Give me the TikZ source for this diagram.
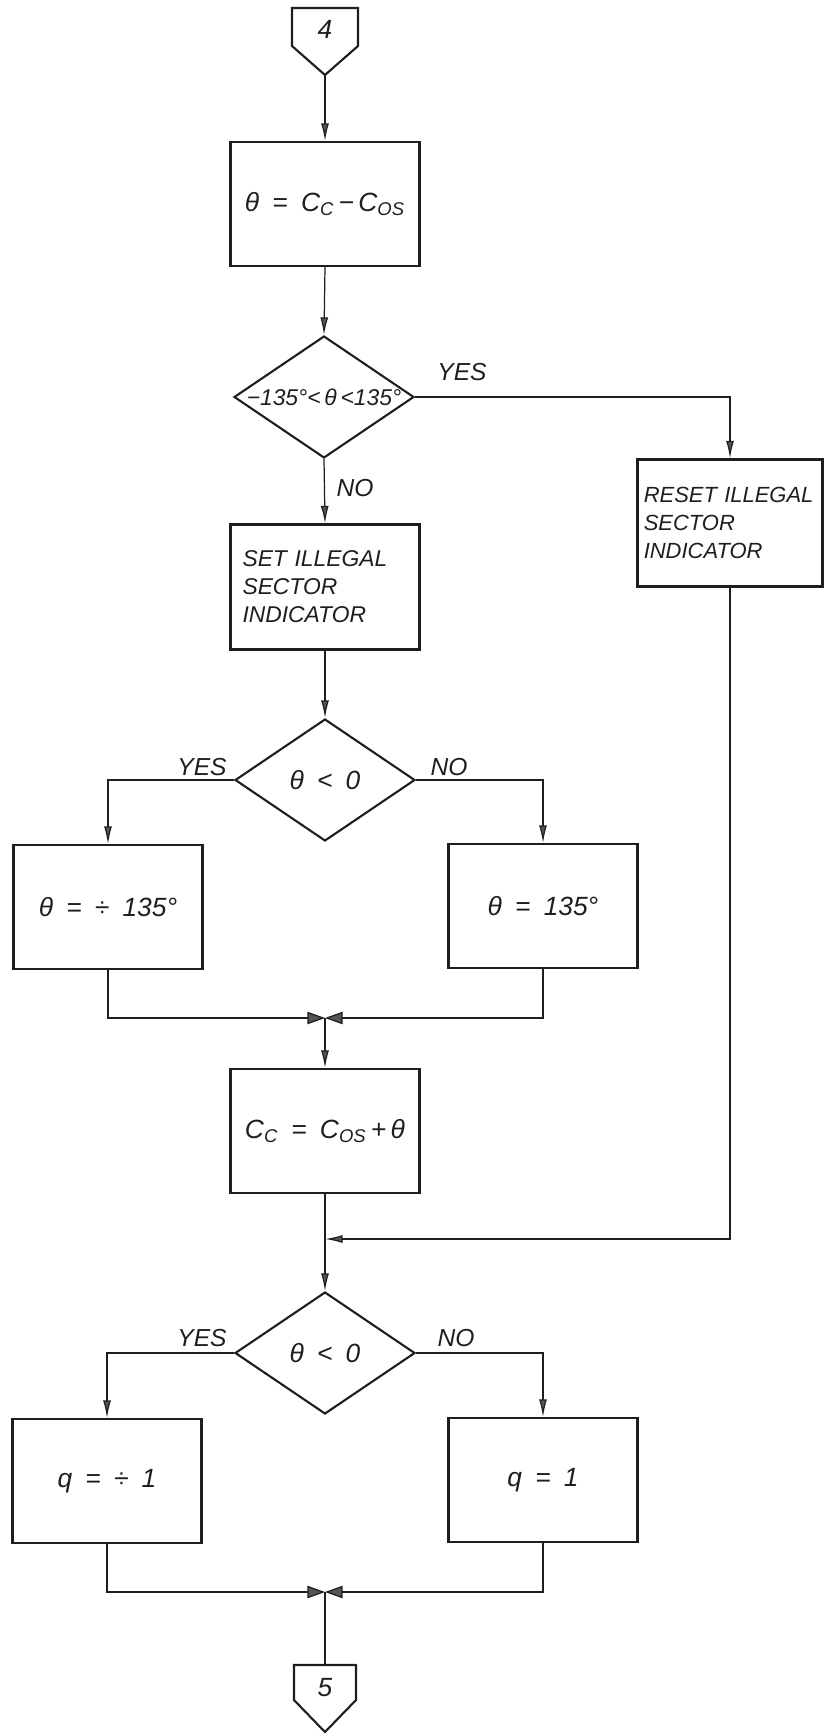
\documentclass[tikz,border=0pt]{standalone}
\usepackage{fontspec}
\setmainfont{Liberation Sans}
\usetikzlibrary{arrows.meta,shapes.geometric}
\definecolor{ink}{HTML}{1E1E1E}
\definecolor{tipgray}{HTML}{555555}
\newcommand{\subs}[1]{\textsubscript{#1}}

\begin{document}
\begin{tikzpicture}[x=0.02cm,y=-0.02cm,
  >={Latex[length=10pt,width=4.5pt,fill=tipgray]},
  every node/.style={font=\itshape\fontsize{13}{16}\selectfont,text=ink},
  proc/.style={draw=ink,line width=1.2pt,minimum width=3.78cm,minimum height=2.48cm,inner sep=3pt},
  dec/.style={draw=ink,diamond,line width=1.2pt,minimum width=3.6cm,minimum height=2.44cm,inner sep=0pt},
  eq/.style={font=\itshape\fontsize{15}{18}\selectfont},
  lbl/.style={font=\itshape\fontsize{14}{16}\selectfont},
  flow/.style={draw=ink,line width=0.7pt,->},
  bow/.style={draw=ink,line width=0.7pt,-{Triangle[length=10pt,width=7pt,fill=tipgray]}}]
\useasboundingbox (0,0) rectangle (823,1733);

% entry connector
\draw[ink,line width=1.2pt] (292,8) -- (358,8) -- (358,46) -- (325,75) -- (292,46) -- cycle;
\node[eq] (n4) at (325,29) {4};
\coordinate (c4) at (325,75);

\node[proc,eq] (calc) at (325,204) {θ\enspace=\enspace C\subs{C}\,−\,C\subs{OS}};
\node[dec] (d1) at (324,397) {};
\node (t1) at (d1) {−135°<\,θ\,<135°};
\node[proc,align=left,text width=3.3cm,minimum height=2.5cm] (setb) at (325,587) {SET ILLEGAL\\SECTOR\\INDICATOR};
\node[proc,align=left,text width=3.45cm,minimum width=3.7cm,minimum height=2.54cm,
  font=\itshape\fontsize{12.5}{16}\selectfont] (resetb) at (730,523) {RESET ILLEGAL\\SECTOR\\INDICATOR};

\node[dec] (d2) at (325,780) {};
\node[eq] (t2) at (d2) {θ\enspace<\enspace0};
\node[proc,eq] (negb) at (108,907) {θ\enspace=\enspace÷\enspace135°};
\node[proc,eq] (posb) at (543,906) {θ\enspace=\enspace135°};
\coordinate (j1) at (325,1018);

\node[proc,eq] (corr) at (325,1131) {C\subs{C}\enspace=\enspace C\subs{OS}\,+\,θ};
\coordinate (m1) at (325,1239);

\node[dec] (d3) at (325,1353) {};
\node[eq] (t3) at (d3) {θ\enspace<\enspace0};
\node[proc,eq] (qneg) at (107,1481) {q\enspace=\enspace÷\enspace1};
\node[proc,eq] (qpos) at (543,1480) {q\enspace=\enspace1};
\coordinate (j2) at (325,1592);

% exit connector
\draw[ink,line width=1.2pt] (294,1665) -- (356,1665) -- (356,1700) -- (325,1732) -- (294,1700) -- cycle;
\node[eq] (n5) at (325,1688) {5};
\coordinate (c5) at (325,1665);

% flow lines
\draw[flow] (c4) -- (calc.north);
\draw[flow] (calc.south) -- (d1.north);
\draw[flow] (d1.east) -| (resetb.north);
\draw[flow] (d1.south) -- (setb.north);
\draw[flow] (setb.south) -- (d2.north);
\draw[flow] (d2.west) -| (negb.north);
\draw[flow] (d2.east) -| (posb.north);
\draw[bow] (negb.south) |- (j1);
\draw[bow] (posb.south) |- (j1);
\draw[flow] (j1) -- (corr.north);
\draw[flow] (corr.south) -- (d3.north);
\draw[flow] (resetb.south) |- (m1);
\draw[flow] (d3.west) -| (qneg.north);
\draw[flow] (d3.east) -| (qpos.north);
\draw[bow] (qneg.south) |- (j2);
\draw[bow] (qpos.south) |- (j2);
\draw[ink,line width=0.7pt] (j2) -- (c5);

% branch labels
\node[lbl] (yes1) at (462,372) {YES};
\node[lbl] (no1) at (355,488) {NO};
\node[lbl] (yes2) at (202,767) {YES};
\node[lbl] (no2) at (449,767) {NO};
\node[lbl] (yes3) at (202,1338) {YES};
\node[lbl] (no3) at (456,1338) {NO};
\end{tikzpicture}
\end{document}
